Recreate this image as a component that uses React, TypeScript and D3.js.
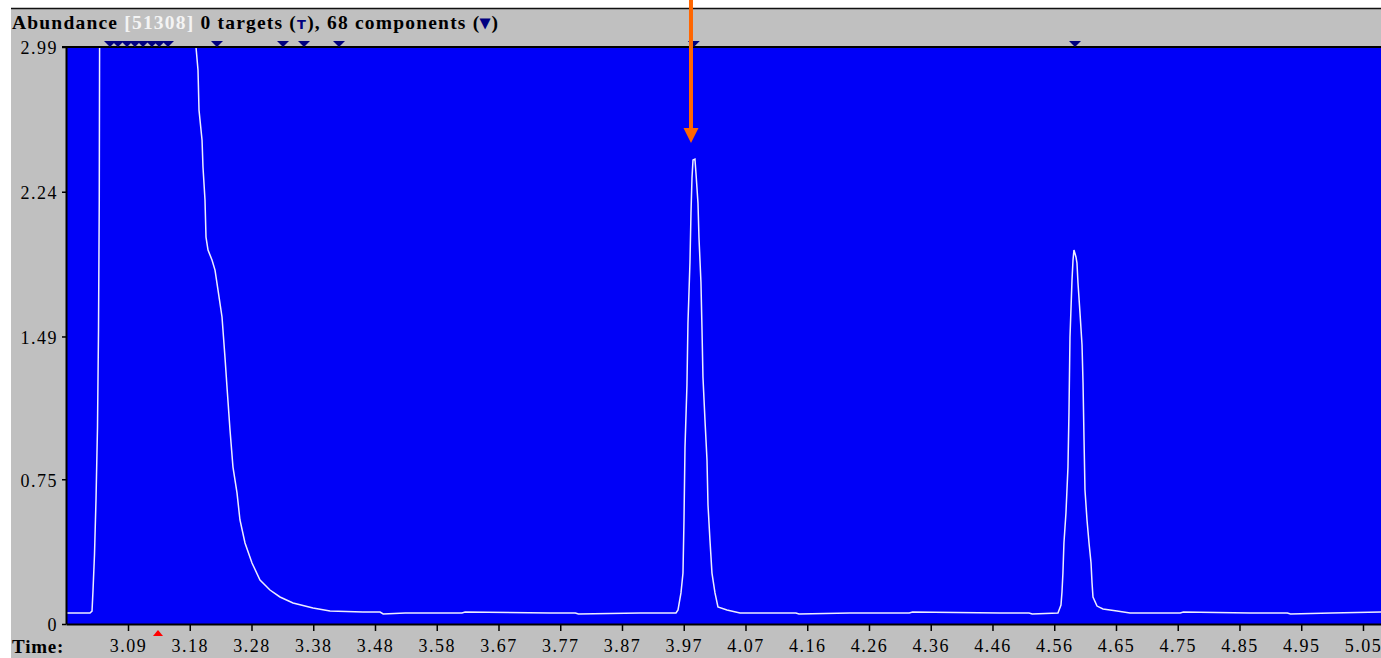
import React, { useRef, useEffect } from 'react';
import * as d3 from 'd3';

const W = 1381;
const H = 658;

// chromatogram trace (time in min, abundance in axis units)
const traceTime = [
  2.9916, 3.0138, 3.0297, 3.0329, 3.0345, 3.0368, 3.0392, 3.0416, 3.0432, 3.0444,
  3.0452, 3.048, 3.06, 3.10, 3.15, 3.19, 3.1965,
  3.1979, 3.2011, 3.2027, 3.2075, 3.209, 3.2122, 3.2138, 3.217, 3.2233, 3.2281,
  3.2328, 3.2392, 3.2439, 3.2471, 3.2519, 3.2566, 3.263, 3.2677, 3.2757, 3.2868,
  3.2995, 3.3153, 3.3312, 3.3519, 3.3836, 3.4106, 3.4629, 3.49, 3.495, 3.53,
  3.5852, 3.62, 3.625, 3.7598, 3.80, 3.805, 3.9026, 3.9597,
  3.9629, 3.9676, 3.9708, 3.9724, 3.974, 3.9771, 3.9787, 3.9819, 3.9835, 3.9851,
  3.9867, 3.9898, 3.9914, 3.9946, 3.9962, 3.9993, 4.0009, 4.0025, 4.0057, 4.0089,
  4.0105, 4.0136, 4.0168, 4.0216, 4.0263, 4.0406, 4.0613,
  4.15, 4.155, 4.2358, 4.33, 4.335, 4.4739, 4.52, 4.525, 4.5659,
  4.5707, 4.5723, 4.5738, 4.5754, 4.5786, 4.5818, 4.5834, 4.585, 4.5882, 4.5898,
  4.5913, 4.5945, 4.5961, 4.5977, 4.6009, 4.6041, 4.6057, 4.6073, 4.6088, 4.612,
  4.6152, 4.6184, 4.62, 4.6215, 4.6279, 4.6374, 4.6596, 4.6803,
  4.76, 4.765, 4.8707, 4.93, 4.935, 5.0, 5.0786,
];
const traceAbundance = [
  0.057, 0.057, 0.057, 0.067, 0.176, 0.358, 0.642, 1.021, 1.523, 2.197,
  3.4, 5.2, 7.5, 8.6, 7.0, 4.2, 3.3,
  2.99, 2.87, 2.663, 2.508, 2.368, 2.197, 2.005, 1.938, 1.886, 1.834,
  1.731, 1.591, 1.383, 1.228, 1.005, 0.813, 0.679, 0.539, 0.42, 0.316,
  0.228, 0.176, 0.14, 0.109, 0.083, 0.067, 0.062, 0.062, 0.052, 0.057,
  0.057, 0.057, 0.062, 0.057, 0.057, 0.052, 0.057, 0.057,
  0.073, 0.161, 0.264, 0.539, 0.917, 1.238, 1.56, 1.876, 2.13, 2.311,
  2.404, 2.409, 2.337, 2.181, 2.0, 1.772, 1.539, 1.28, 1.057, 0.85,
  0.617, 0.435, 0.264, 0.161, 0.088, 0.073, 0.057,
  0.057, 0.052, 0.057, 0.057, 0.062, 0.057, 0.057, 0.052, 0.057,
  0.098, 0.166, 0.264, 0.42, 0.575, 0.813, 1.098, 1.487, 1.782, 1.886,
  1.938, 1.902, 1.87, 1.767, 1.611, 1.446, 1.249, 0.953, 0.694, 0.539,
  0.42, 0.316, 0.212, 0.14, 0.093, 0.078, 0.067, 0.057,
  0.057, 0.062, 0.057, 0.057, 0.052, 0.057, 0.062,
];

const timeExtent = [2.9916, 5.0786];
const abundanceExtent = [0, 2.99];

const yTicks = [0, 0.75, 1.49, 2.24, 2.99];
const yTickLabels = ['0', '0.75', '1.49', '2.24', '2.99'];

const xTickTimes = [
  3.09, 3.188, 3.286, 3.384, 3.482, 3.58, 3.678, 3.776, 3.874, 3.972, 4.07,
  4.168, 4.266, 4.364, 4.462, 4.56, 4.658, 4.756, 4.854, 4.952, 5.05,
];
const xTickLabels = [
  '3.09', '3.18', '3.28', '3.38', '3.48', '3.58', '3.67', '3.77', '3.87', '3.97', '4.07',
  '4.16', '4.26', '4.36', '4.46', '4.56', '4.65', '4.75', '4.85', '4.95', '5.05',
];

// component markers along the top edge
const componentTimes = [
  3.0614, 3.074, 3.0884, 3.101, 3.1138, 3.128, 3.1395, 3.1535,
  3.2312, 3.336, 3.3693, 3.4249, 3.988, 4.593,
];
const cursorTimes = [3.1376];
const arrowTimes = [3.9835];

const headerParts = [
  { text: 'Abundance ', color: '#000' },
  { text: '[51308]', color: '#f4f4f4' },
  { text: ' 0 targets (', color: '#000' },
  { text: 'T', color: '#000080', small: true },
  { text: '), 68 components (', color: '#000' },
  { text: '▾', color: '#000080' },
  { text: ')', color: '#000' },
];

function App() {
  const ref = useRef(null);

  useEffect(() => {
    const svg = d3.select(ref.current);
    svg.selectAll('*').remove();

    const margin = { top: 47, right: 0, bottom: 34, left: 66 };

    const x = d3.scaleLinear().domain(timeExtent).range([margin.left, W - margin.right]);
    const y = d3.scaleLinear().domain(abundanceExtent).range([H - margin.bottom, margin.top]);

    svg.append('rect').attr('width', W).attr('height', H).attr('fill', '#fff');
    svg.append('rect')
      .attr('x', 11).attr('y', 8)
      .attr('width', W - 11).attr('height', H - 8)
      .attr('fill', '#c0c0c0');
    svg.append('line')
      .attr('x1', 11).attr('x2', W)
      .attr('y1', 8.5).attr('y2', 8.5)
      .attr('stroke', '#111').attr('stroke-width', 1.4);

    // header
    const header = svg.append('text')
      .attr('x', 12).attr('y', 29)
      .attr('font-family', '"Liberation Serif", serif')
      .attr('font-weight', 'bold')
      .attr('font-size', 19.5)
      .attr('letter-spacing', 1.2);
    headerParts.forEach(p => {
      const t = header.append('tspan').text(p.text).attr('fill', p.color);
      if (p.small) t.attr('font-size', 13).attr('font-family', '"DejaVu Sans", sans-serif');
    });

    // plot background
    svg.append('rect')
      .attr('x', x(timeExtent[0])).attr('y', y(abundanceExtent[1]))
      .attr('width', x(timeExtent[1]) - x(timeExtent[0]))
      .attr('height', y(0) - y(abundanceExtent[1]))
      .attr('fill', '#0000f8');

    svg.append('clipPath').attr('id', 'plotclip')
      .append('rect')
      .attr('x', x(timeExtent[0])).attr('y', y(abundanceExtent[1]))
      .attr('width', x(timeExtent[1]) - x(timeExtent[0]))
      .attr('height', y(0) - y(abundanceExtent[1]));

    const line = d3.line()
      .x((d, i) => x(traceTime[i]))
      .y((d) => y(d))
      .curve(d3.curveLinear);

    svg.append('path')
      .attr('clip-path', 'url(#plotclip)')
      .attr('d', line(traceAbundance))
      .attr('fill', 'none')
      .attr('stroke', '#eeeeff')
      .attr('stroke-width', 1.5);

    // axes
    const yAxis = d3.axisLeft(y)
      .tickValues(yTicks)
      .tickSize(4)
      .tickSizeOuter(0)
      .tickFormat((d, i) => yTickLabels[i]);
    const gy = svg.append('g')
      .attr('transform', `translate(${margin.left},0)`)
      .call(yAxis);
    gy.select('.domain').attr('stroke', '#000').attr('stroke-width', 2);
    gy.selectAll('.tick line').attr('stroke', '#000').attr('stroke-width', 1.5);
    gy.selectAll('.tick text')
      .attr('x', -8)
      .attr('dy', '0.38em')
      .attr('fill', '#000')
      .attr('font-family', '"Liberation Serif", serif')
      .attr('font-size', 18)
      .attr('letter-spacing', 1.5);

    const xAxis = d3.axisBottom(x)
      .tickValues(xTickTimes)
      .tickSize(7)
      .tickSizeOuter(0)
      .tickFormat((d, i) => xTickLabels[i]);
    const gx = svg.append('g')
      .attr('transform', `translate(0,${y(0)})`)
      .call(xAxis);
    gx.select('.domain').attr('stroke', '#000').attr('stroke-width', 2);
    gx.selectAll('.tick line').attr('stroke', '#000').attr('stroke-width', 1.5);
    gx.selectAll('.tick text')
      .attr('y', 28)
      .attr('dy', 0)
      .attr('fill', '#000')
      .attr('font-family', '"Liberation Serif", serif')
      .attr('font-size', 18)
      .attr('letter-spacing', 1.5);

    // top border of plot
    svg.append('line')
      .attr('x1', margin.left - 4).attr('x2', W)
      .attr('y1', y(abundanceExtent[1])).attr('y2', y(abundanceExtent[1]))
      .attr('stroke', '#000').attr('stroke-width', 2);

    svg.append('text')
      .attr('x', 12).attr('y', H - 5)
      .attr('font-family', '"Liberation Serif", serif')
      .attr('font-weight', 'bold')
      .attr('font-size', 19)
      .attr('letter-spacing', 0.8)
      .text('Time:');

    // component markers
    const top = y(abundanceExtent[1]);
    svg.append('g').selectAll('path')
      .data(componentTimes)
      .join('path')
      .attr('d', d => `M${x(d) - 6},${top - 6}L${x(d) + 6},${top - 6}L${x(d)},${top}Z`)
      .attr('fill', '#000080');

    // retention time cursor
    const bottom = y(0);
    svg.append('g').selectAll('path')
      .data(cursorTimes)
      .join('path')
      .attr('d', d => `M${x(d) - 5},${bottom + 12}L${x(d) + 5},${bottom + 12}L${x(d)},${bottom + 6}Z`)
      .attr('fill', '#ff0000');

    // orange annotation arrow
    const arrow = svg.append('g').selectAll('g').data(arrowTimes).join('g');
    arrow.append('line')
      .attr('x1', d => x(d)).attr('x2', d => x(d))
      .attr('y1', 0).attr('y2', 130)
      .attr('stroke', '#ff6600').attr('stroke-width', 4);
    arrow.append('path')
      .attr('d', d => `M${x(d) - 7.5},128L${x(d) + 7.5},128L${x(d)},143Z`)
      .attr('fill', '#ff6600');
  }, []);

  return (
    <svg
      width={W}
      height={H}
      ref={ref}
      style={{ position: 'absolute', left: 0, top: 0, display: 'block' }}
    ></svg>
  );
}

export default App;
